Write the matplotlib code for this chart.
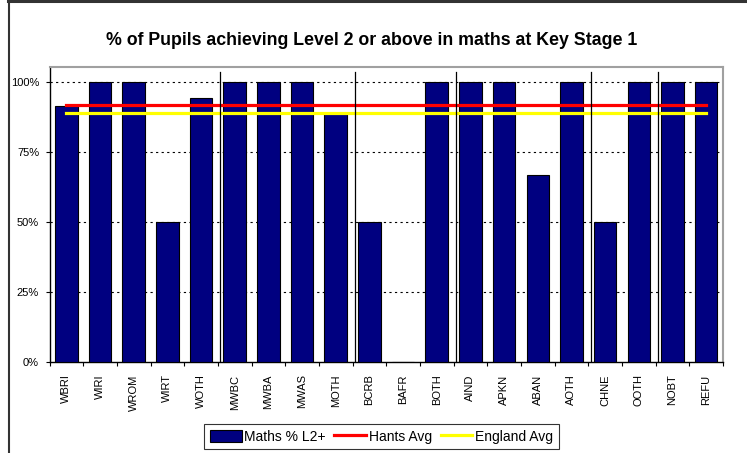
import matplotlib
matplotlib.use("Agg")
import matplotlib.pyplot as plt
import numpy as np
from matplotlib.lines import Line2D
from matplotlib.patches import Patch
from matplotlib.ticker import FuncFormatter

categories = ["WBRI", "WIRI", "WROM", "WIRT", "WOTH", "MWBC", "MWBA", "MWAS", "MOTH",
              "BCRB", "BAFR", "BOTH", "AIND", "APKN", "ABAN", "AOTH", "CHNE", "OOTH",
              "NOBT", "REFU"]
maths_l2 = [0.915, 1.0, 1.0, 0.5, 0.945, 1.0, 1.0, 1.0, 0.889,
            0.5, 0.0, 1.0, 1.0, 1.0, 0.667, 1.0, 0.5, 1.0,
            1.0, 1.0]
hants_avg = 0.92
england_avg = 0.89
group_breaks_after = ["WOTH", "MOTH", "BOTH", "AOTH", "OOTH"]

plt.rcParams["font.family"] = ["Liberation Sans", "DejaVu Sans"]

W, H = 747, 453
fig = plt.figure(figsize=(W / 100, H / 100), dpi=100)
fig.patch.set_facecolor("white")

ax_l, ax_r, ax_t, ax_b = 49.5, 723, 67, 362
ax = fig.add_axes([ax_l / W, 1 - ax_b / H, (ax_r - ax_l) / W, (ax_b - ax_t) / H])

n = len(categories)
x = np.arange(n)
ax.bar(x, maths_l2, width=0.67, color="#000080", edgecolor="black", linewidth=0.8,
       zorder=3, label="Maths % L2+")
ax.plot(x, [hants_avg] * n, color="#ff0000", lw=2.3, zorder=4, label="Hants Avg")
ax.plot(x, [england_avg] * n, color="#ffff00", lw=2.3, zorder=4, label="England Avg")

for name in group_breaks_after:
    i = categories.index(name)
    ax.plot([i + 0.57, i + 0.57], [0, 1.036], color="black", lw=0.9, zorder=5)

ax.set_xlim(-0.5, n - 0.5)
ax.set_ylim(0, 1.054)

ax.set_yticks([0, 0.25, 0.5, 0.75, 1.0])
ax.yaxis.set_major_formatter(FuncFormatter(lambda v, p: f"{v*100:.0f}%"))
for yv in [0.25, 0.5, 0.75, 1.0]:
    ax.axhline(yv, color="black", lw=0.8, linestyle=(0, (2, 3)), zorder=1)

ax.set_xticks(np.arange(-0.5, n, 1.0))
ax.set_xticklabels([])
ax.set_xticks(x, minor=True)
ax.set_xticklabels(categories, minor=True, rotation=90, va="top", ha="center",
                   fontsize=8, color="black")
ax.tick_params(axis="x", which="major", direction="out", length=3, width=0.8)
ax.tick_params(axis="x", which="minor", length=0, pad=9)
ax.tick_params(axis="y", direction="out", length=3, width=0.8, pad=4.5, labelsize=8)

for s in ["top", "right"]:
    ax.spines[s].set_color("#a0a0a0")
    ax.spines[s].set_linewidth(1.5)
for s in ["left", "bottom"]:
    ax.spines[s].set_color("black")
    ax.spines[s].set_linewidth(1.0)

fig.text(372 / W, 1 - 40.5 / H, "% of Pupils achieving Level 2 or above in maths at Key Stage 1",
         ha="center", va="center", fontsize=12.8, fontweight="bold")

handles = [Patch(facecolor="#000080", edgecolor="black", linewidth=0.8),
           Line2D([0], [0], color="#ff0000", lw=2.3),
           Line2D([0], [0], color="#ffff00", lw=2.3)]
labels = ["Maths % L2+", "Hants Avg", "England Avg"]
leg = fig.legend(handles, labels, loc="upper center", bbox_to_anchor=(381.5 / W, 1 - 424 / H),
                 ncol=3, fontsize=10, frameon=True, fancybox=False, handlelength=2.3,
                 handleheight=0.9, handletextpad=0.2, columnspacing=0.6, borderpad=0.4,
                 borderaxespad=0)
leg.get_frame().set_edgecolor("black")
leg.get_frame().set_linewidth(0.8)

# outer chart border
fig.add_artist(Line2D([8 / W, 1], [1 - 1 / H, 1 - 1 / H], transform=fig.transFigure,
                      color="#333333", lw=2.2))
fig.add_artist(Line2D([8.5 / W, 8.5 / W], [0, 1 - 1 / H], transform=fig.transFigure,
                      color="#333333", lw=1.5))

fig.savefig("out.png", dpi=100, facecolor="white")
